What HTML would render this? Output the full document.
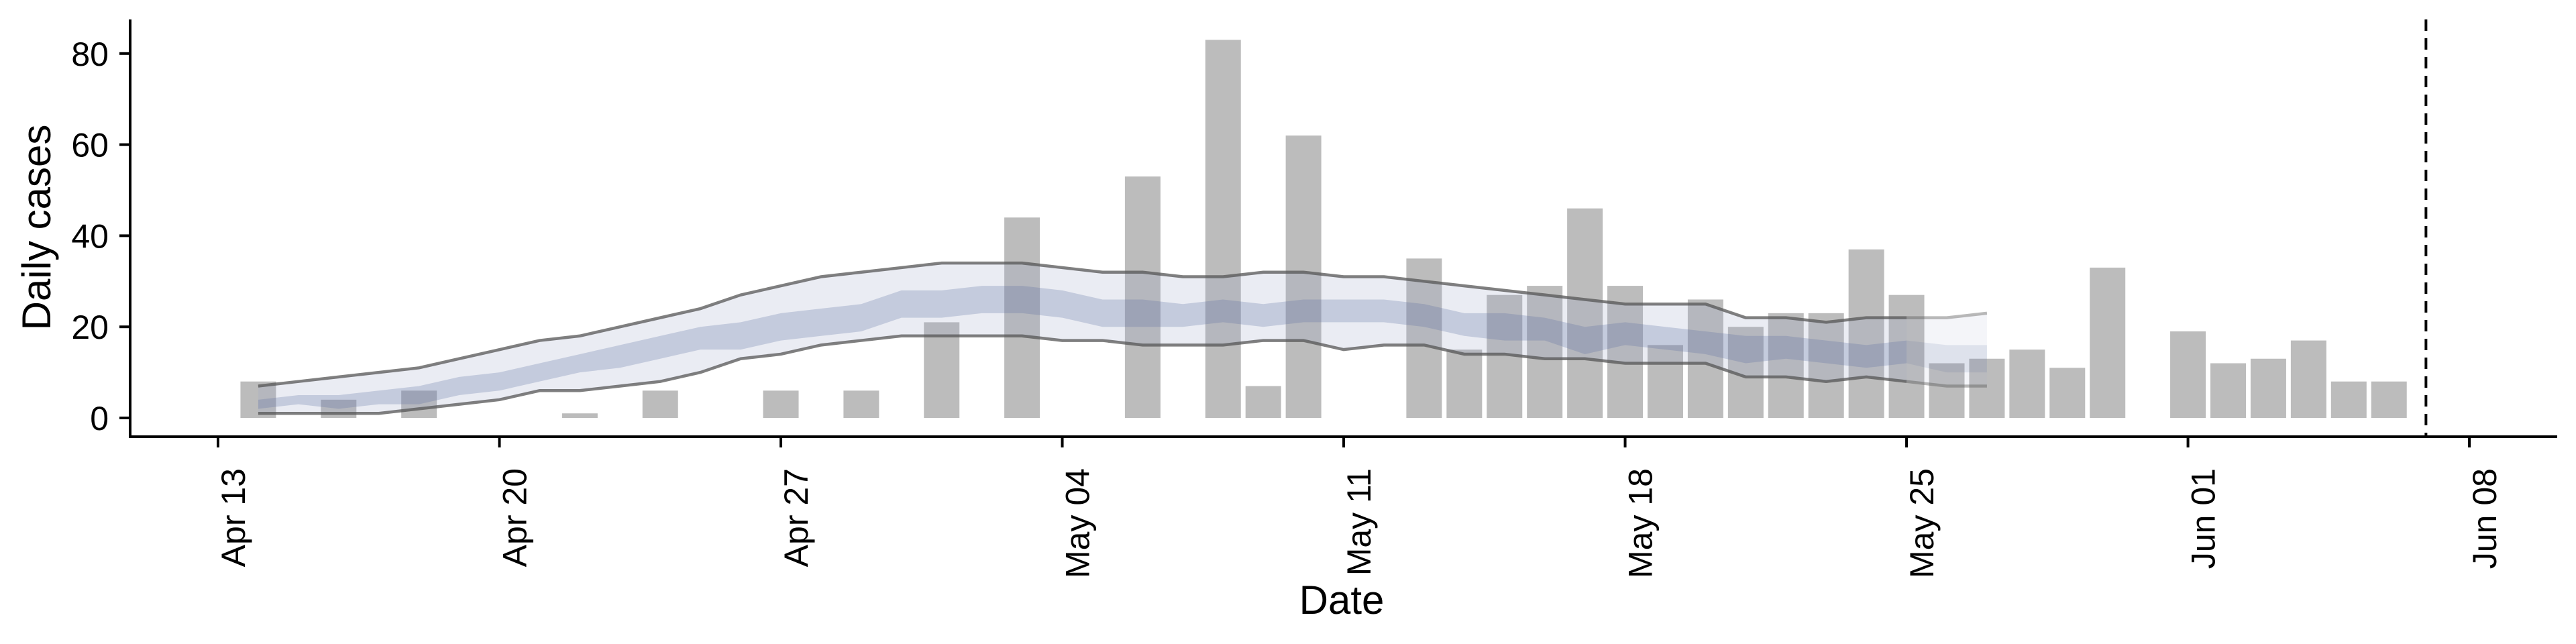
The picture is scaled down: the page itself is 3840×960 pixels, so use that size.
<!DOCTYPE html>
<html><head><meta charset="utf-8"><style>
html,body{margin:0;padding:0;background:#fff;}
svg{display:block;font-family:"Liberation Sans",Arial,sans-serif;}
</style></head><body>
<svg id="chart" width="3840" height="960" viewBox="0 0 3840 960" xmlns="http://www.w3.org/2000/svg">
<g id="bars"></g>
<g id="bands"></g>
<g id="axes"></g>
</svg>
<script>
// bar data: day offset from Apr 13 and daily case counts
const barDays = [1,3,5,9,11,14,16,18,20,23,25,26,27,30,31,32,33,34,35,36,37,38,39,40,41,42,43,44,45,46,47,49,50,51,52,53,54];
const barValues = [8,4,6,1,6,6,6,21,44,53,83,7,62,35,15,27,29,46,29,16,26,20,23,23,37,27,12,13,15,11,33,19,12,13,17,8,8];
// band data (Apr 14 .. May 27)
const bandStartDay = 1;
const upper90 = [7,8,9,10,11,13,15,17,18,20,22,24,27,29,31,32,33,34,34,34,33,32,32,31,31,32,32,31,31,30,29,28,27,26,25,25,25,22,22,21,22,22,22,23];
const lower90 = [1,1,1,1,2,3,4,6,6,7,8,10,13,14,16,17,18,18,18,18,17,17,16,16,16,17,17,15,16,16,14,14,13,13,12,12,12,9,9,8,9,8,7,7];
const upper50 = [4,5,5,6,7,9,10,12,14,16,18,20,21,23,24,25,28,28,29,29,28,26,26,25,26,25,26,26,26,25,23,23,22,20,21,20,19,18,18,17,16,17,16,16];
const lower50 = [2,3,2,3,3,5,6,8,10,11,13,15,15,17,18,19,22,22,23,23,22,20,20,20,21,20,21,21,21,20,18,17,17,14,16,15,14,12,13,12,11,12,10,10];
const yTicks = [0,20,40,60,80];
const xTickDays = [0,7,14,21,28,35,42,49,56];
const xTickLabels = ["Apr 13","Apr 20","Apr 27","May 04","May 11","May 18","May 25","Jun 01","Jun 08"];
const cutoffDay = 54.92;
const nowcastFromIndex = 41; // May 25 onward drawn lighter

const NS = "http://www.w3.org/2000/svg";
const X = d => 325 + d * 59.93;
const Y = v => 623 - v * 6.79;
function mk(tag, attrs, parent){const e=document.createElementNS(NS,tag);for(const k in attrs)e.setAttribute(k,attrs[k]);parent.appendChild(e);return e;}

const gb = document.getElementById('bars');
barDays.forEach((d,i)=>{
  const r = mk('rect',{x:X(d)-26.5,y:Y(barValues[i]),width:53,height:Y(0)-Y(barValues[i]),fill:'#bcbcbc'},gb);
  
  
});

const gd = document.getElementById('bands');
function bandPath(up, lo, a, b){
  let p='';
  for(let i=a;i<=b;i++) p += (i===a?'M':'L') + X(bandStartDay+i) + ' ' + Y(up[i]) + ' ';
  for(let i=b;i>=a;i--) p += 'L' + X(bandStartDay+i) + ' ' + Y(lo[i]) + ' ';
  return p + 'Z';
}
function linePath(arr,a,b){
  let p='';
  for(let i=a;i<=b;i++) p += (i===a?'M':'L') + X(bandStartDay+i) + ' ' + Y(arr[i]) + ' ';
  return p;
}
const n = upper90.length-1;
const segs = [[0,nowcastFromIndex,1],[nowcastFromIndex,n,0.55]];
segs.forEach(([a,b,op],si)=>{
  const g = mk('g',{opacity:op},gd);
  
  
  const o = mk('path',{d:bandPath(upper90,lower90,a,b),fill:'rgb(160,170,200)','fill-opacity':0.22},g);
  
  
  const inn = mk('path',{d:bandPath(upper50,lower50,a,b),fill:'rgb(90,110,160)','fill-opacity':0.26},g);
  
  
  const lu = mk('path',{d:linePath(upper90,a,b),fill:'none',stroke:'#555','stroke-opacity':0.75,'stroke-width':4.5},g);
  
  
  const ll = mk('path',{d:linePath(lower90,a,b),fill:'none',stroke:'#555','stroke-opacity':0.75,'stroke-width':4.5},g);
  
  
});

const ga = document.getElementById('axes');
const cut = mk('line',{x1:X(cutoffDay),x2:X(cutoffDay),y1:29,y2:651,stroke:'#000','stroke-width':4,'stroke-dasharray':'17 11'},ga);


const ya = mk('line',{x1:194,x2:194,y1:29,y2:653,stroke:'#000','stroke-width':4},ga);


const xa = mk('line',{x1:192,x2:3812,y1:651,y2:651,stroke:'#000','stroke-width':4},ga);


yTicks.forEach(v=>{
  const t = mk('line',{x1:178,x2:194,y1:Y(v),y2:Y(v),stroke:'#000','stroke-width':4},ga);
  
  
  const l = mk('text',{x:162,y:Y(v)+18,'text-anchor':'end','font-size':50},ga);
  l.textContent = v;
  
  
});
xTickDays.forEach((d,i)=>{
  const t = mk('line',{x1:X(d),x2:X(d),y1:651,y2:667,stroke:'#000','stroke-width':4},ga);
  
  
  const tx = X(d)+40, ty = 698;
  const l = mk('text',{x:tx,y:ty,'text-anchor':'end','font-size':50,transform:'rotate(-90 '+tx+' '+ty+')'},ga);
  l.textContent = xTickLabels[i];
  
  
});
const yt = mk('text',{x:75,y:339,'text-anchor':'middle','font-size':60,transform:'rotate(-90 75 339)'},ga);
yt.textContent = 'Daily cases';


const xt = mk('text',{x:2000,y:915,'text-anchor':'middle','font-size':60},ga);
xt.textContent = 'Date';


</script>
</body></html>
